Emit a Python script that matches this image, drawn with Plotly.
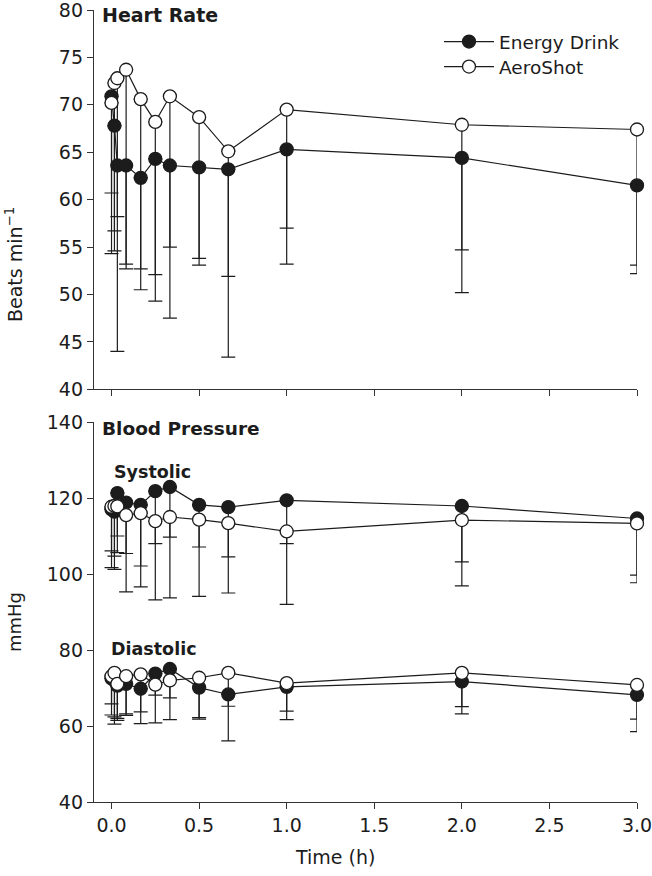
import plotly.graph_objects as go
from plotly.subplots import make_subplots

# ---------------- data ----------------
time_h = [0, 1/60, 2/60, 5/60, 10/60, 15/60, 20/60, 30/60, 40/60, 1.0, 2.0, 3.0]

hr_energy = [70.9, 67.8, 63.6, 63.6, 62.3, 64.3, 63.6, 63.4, 63.2, 65.3, 64.4, 61.5]
hr_energy_low = [54.3, 54.6, 44.0, 52.7, 52.7, 49.3, 47.5, 53.1, 43.4, 53.2, 50.2, 52.2]
hr_aero = [70.2, 72.3, 72.8, 73.7, 70.6, 68.2, 70.9, 68.7, 65.1, 69.5, 67.9, 67.4]
hr_aero_low = [60.7, 56.7, 58.2, 53.2, 50.5, 52.1, 55.0, 53.8, 51.9, 57.0, 54.7, 53.1]

sys_energy = [117.0, 116.4, 121.3, 118.8, 118.2, 121.8, 122.9, 118.2, 117.6, 119.4, 117.9, 114.6]
sys_energy_low = [101.7, 101.2, 105.6, 95.3, 96.6, 93.2, 93.7, 94.1, 95.0, 92.0, 96.9, 97.7]
sys_aero = [117.7, 117.9, 117.8, 115.5, 116.0, 113.9, 115.0, 114.3, 113.4, 111.2, 114.2, 113.3]
sys_aero_low = [106.1, 104.7, 110.0, 105.4, 102.1, 108.0, 109.7, 107.1, 104.5, 108.0, 103.2, 99.7]

dia_energy = [72.5, 72.0, 70.6, 71.1, 69.8, 73.8, 75.0, 70.1, 68.3, 70.3, 71.7, 68.2]
dia_energy_low = [62.9, 60.5, 61.5, 62.8, 60.6, 60.8, 61.7, 61.8, 56.1, 61.7, 63.2, 58.5]
dia_aero = [73.1, 74.0, 71.1, 73.1, 73.6, 70.9, 72.0, 72.7, 74.0, 71.3, 74.0, 70.8]
dia_aero_low = [65.8, 62.4, 62.0, 63.2, 63.7, 68.1, 67.4, 62.2, 65.2, 63.9, 65.1, 61.8]

x_ticks = [0.0, 0.5, 1.0, 1.5, 2.0, 2.5, 3.0]
x_tick_labels = ["0.0", "0.5", "1.0", "1.5", "2.0", "2.5", "3.0"]
hr_ticks = [40, 45, 50, 55, 60, 65, 70, 75, 80]
bp_ticks = [40, 60, 80, 100, 120, 140]

series_names = ["Energy Drink", "AeroShot"]

# ---------------- styling ----------------
W, H = 652, 876
M_L, M_R, M_T, M_B = 94, 15, 10, 74
FONT = "DejaVu Sans, Liberation Sans, Arial, sans-serif"
INK = "#1c1c1c"
AXIS = "#333333"
TICK_SIZE = 19


def py2paper(py):
    return (H - M_B - py) / (H - M_T - M_B)


def px2paper(px):
    return (px - M_L) / (W - M_L - M_R)


fig = make_subplots(rows=2, cols=1, shared_xaxes=False, vertical_spacing=0.0)

fig.update_layout(
    yaxis=dict(domain=[py2paper(389.3), 1.0]),
    yaxis2=dict(domain=[0.0, py2paper(422.0)]),
)


def add_series(y, low, row, filled, name, show, legend_id):
    minus = [m - l for m, l in zip(y, low)]
    fig.add_trace(
        go.Scatter(
            x=time_h,
            y=y,
            mode="lines+markers",
            name=name,
            legendgroup=name,
            legend=legend_id,
            showlegend=show,
            line=dict(color=INK, width=1.2),
            marker=dict(
                symbol="circle",
                size=13,
                color=INK if filled else "white",
                line=dict(color=INK, width=1.3),
            ),
            error_y=dict(
                type="data",
                symmetric=False,
                array=[0] * len(y),
                arrayminus=minus,
                color=INK,
                thickness=1.2,
                width=7,
            ),
            cliponaxis=False,
        ),
        row=row,
        col=1,
    )


# Energy Drink (filled) first, AeroShot (open) drawn on top
add_series(hr_energy, hr_energy_low, 1, True, series_names[0], True, "legend")
add_series(sys_energy, sys_energy_low, 2, True, series_names[0], False, "legend")
add_series(dia_energy, dia_energy_low, 2, True, series_names[0], False, "legend")
add_series(hr_aero, hr_aero_low, 1, False, series_names[1], True, "legend2")
add_series(sys_aero, sys_aero_low, 2, False, series_names[1], False, "legend2")
add_series(dia_aero, dia_aero_low, 2, False, series_names[1], False, "legend2")

common_x = dict(
    range=[-0.1, 3.0],
    tickmode="array",
    tickvals=x_ticks,
    ticktext=x_tick_labels,
    showline=True,
    linecolor=AXIS,
    linewidth=1.3,
    ticks="outside",
    ticklen=6,
    tickwidth=1.2,
    tickcolor=AXIS,
    showgrid=False,
    zeroline=False,
    automargin=False,
    ticklabeloverflow="allow",
    tickfont=dict(family=FONT, size=TICK_SIZE, color=INK),
)
fig.update_xaxes(**common_x)
fig.update_xaxes(showticklabels=False, row=1, col=1)

common_y = dict(
    showline=True,
    linecolor=AXIS,
    linewidth=1.3,
    ticks="outside",
    ticklen=6,
    tickwidth=1.2,
    tickcolor=AXIS,
    showgrid=False,
    zeroline=False,
    automargin=False,
    ticklabeloverflow="allow",
    tickfont=dict(family=FONT, size=TICK_SIZE, color=INK),
)
fig.update_yaxes(range=[40, 80], tickvals=hr_ticks, row=1, col=1, **common_y)
fig.update_yaxes(range=[40, 140], tickvals=bp_ticks, row=2, col=1, **common_y)

annotations = [
    dict(text="<b>Heart Rate</b>", x=px2paper(100), y=py2paper(15), xanchor="left",
         yanchor="middle", font=dict(size=19)),
    dict(text="<b>Blood Pressure</b>", x=px2paper(100), y=py2paper(428), xanchor="left",
         yanchor="middle", font=dict(size=18.5)),
    dict(text="<b>Systolic</b>", x=px2paper(112), y=py2paper(472), xanchor="left",
         yanchor="middle", font=dict(size=17.5)),
    dict(text="<b>Diastolic</b>", x=px2paper(109), y=py2paper(649), xanchor="left",
         yanchor="middle", font=dict(size=17.5)),
    dict(text="Beats min<sup>\u22121</sup>", x=px2paper(14), y=py2paper(265), xanchor="center",
         yanchor="middle", textangle=-90, font=dict(size=19)),
    dict(text="mmHg", x=px2paper(14), y=py2paper(622), xanchor="center",
         yanchor="middle", textangle=-90, font=dict(size=18)),
    dict(text="Time (h)", x=px2paper(335), y=py2paper(857), xanchor="center",
         yanchor="middle", font=dict(size=19)),
]
for a in annotations:
    a.update(xref="paper", yref="paper", showarrow=False)
    a["font"].update(family=FONT, color=INK)

legend_common = dict(
    xanchor="left",
    yanchor="top",
    bgcolor="rgba(0,0,0,0)",
    font=dict(family=FONT, size=18.5, color=INK),
    tracegroupgap=0,
    itemwidth=50,
)

fig.update_layout(
    width=W,
    height=H,
    margin=dict(l=M_L, r=M_R, t=M_T, b=M_B, autoexpand=False),
    paper_bgcolor="white",
    plot_bgcolor="white",
    font=dict(family=FONT, color=INK, size=19),
    annotations=annotations,
    showlegend=True,
    legend=dict(x=px2paper(439), y=py2paper(23), **legend_common),
    legend2=dict(x=px2paper(439), y=py2paper(48), **legend_common),
)

fig.write_html(
    "out.html",
    config={"displayModeBar": False},
    post_script="document.body.style.margin='0';",
)
